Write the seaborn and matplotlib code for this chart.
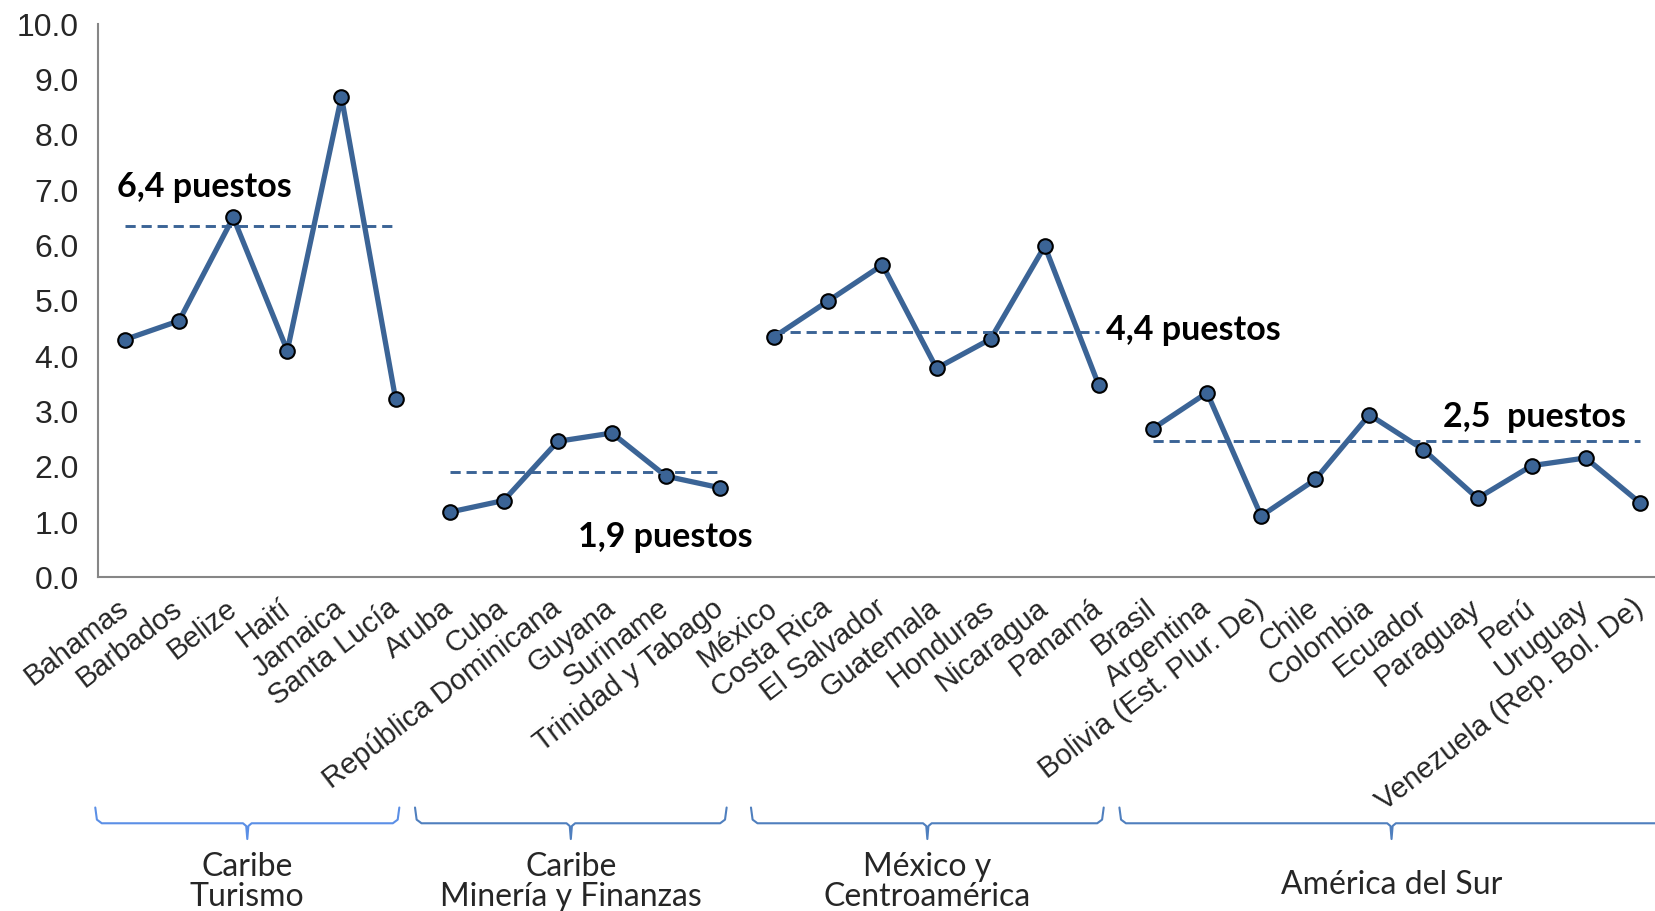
import numpy as np
import pandas as pd
import seaborn as sns
import matplotlib.pyplot as plt
import matplotlib.transforms as mtransforms

# datos
paises = ['Bahamas', 'Barbados', 'Belize', 'Haití', 'Jamaica', 'Santa Lucía',
          'Aruba', 'Cuba', 'República Dominicana', 'Guyana', 'Suriname', 'Trinidad y Tabago',
          'México', 'Costa Rica', 'El Salvador', 'Guatemala', 'Honduras', 'Nicaragua', 'Panamá',
          'Brasil', 'Argentina', 'Bolivia (Est. Plur. De)', 'Chile', 'Colombia', 'Ecuador',
          'Paraguay', 'Perú', 'Uruguay', 'Venezuela (Rep. Bol. De)']
valores = [4.3, 4.64, 6.51, 4.1, 8.69, 3.23,
           1.18, 1.39, 2.46, 2.61, 1.83, 1.62,
           4.35, 5.0, 5.65, 3.78, 4.31, 5.99, 3.47,
           2.69, 3.34, 1.11, 1.77, 2.94, 2.31, 1.43, 2.02, 2.16, 1.35]
grupos = ['Caribe\nTurismo', 'Caribe\nMinería y Finanzas',
          'México y\nCentroamérica', 'América del Sur']
n_por_grupo = [6, 6, 7, 10]
promedios = [6.35, 1.91, 4.43, 2.46]
promedio_txt = ['6,4 puestos', '1,9 puestos', '4,4 puestos', '2,5  puestos']

azul = '#3B6496'
gris = '#868686'

df = pd.DataFrame({'pais': paises, 'valor': valores,
                   'grupo': np.repeat(grupos, n_por_grupo)})
df['pos'] = np.arange(len(df))

sns.set_style('white')
plt.rcParams['font.family'] = ['Liberation Sans', 'DejaVu Sans']

fig = plt.figure(figsize=(16.55, 9.11), dpi=100)
ax = fig.add_axes([0.0592, 0.3662, 0.948, 0.6071])

sns.lineplot(data=df, x='pos', y='valor', hue='grupo', palette=[azul] * 4,
             sort=False, legend=False, marker='o', markersize=10.5,
             markeredgecolor='black', markeredgewidth=1.5, linewidth=3.8, ax=ax)

# lineas de promedio por grupo
inicio = np.cumsum([0] + n_por_grupo[:-1])
fin = inicio + np.array(n_por_grupo) - 1
for i0, i1, p in zip(inicio, fin, promedios):
    ax.plot([i0, i1], [p, p], color=azul, lw=2.1, ls=(0, (3.5, 2)))

# etiquetas de promedio
txt_pos = [(-0.15, 7.06), (8.38, 0.73), (18.13, 4.48), (24.37, 2.9)]
for (tx, ty), t in zip(txt_pos, promedio_txt):
    ax.text(tx, ty, t, fontsize=24.5, fontweight='bold', family='Lato',
            ha='left', va='center', color='black')

ax.set_xlim(-0.5, 28.5)
ax.set_ylim(0, 10)
ax.set_yticks(np.arange(0, 11, 1))
ax.set_yticklabels([f'{v:.1f}' for v in np.arange(0, 11, 1)], fontsize=23)
ax.set_xticks(range(len(paises)))
ax.set_xticklabels(paises, fontsize=21, rotation=37.5, ha='right', va='center',
                   rotation_mode='anchor')
ax.set_xticks(np.arange(-0.5, len(paises), 1), minor=True)
ax.tick_params(axis='x', which='major', length=0, pad=20)
ax.tick_params(axis='x', which='minor', length=7, width=1.2, color=gris, direction='out')
ax.tick_params(axis='y', length=7, width=1.2, color=gris, direction='out', pad=7)
ax.set_xlabel('')
ax.set_ylabel('')
for s in ['top', 'right']:
    ax.spines[s].set_visible(False)
for s in ['left', 'bottom']:
    ax.spines[s].set_color(gris)
    ax.spines[s].set_linewidth(1.5)

# llaves de grupos debajo de las etiquetas
tr = mtransforms.blended_transform_factory(ax.transData, fig.transFigure)
llaves = [(-0.55, 5.07), (5.36, 11.12), (11.57, 18.09), (18.38, 28.44)]
colores_llave = ['#5B8FE6', '#4F7FBE', '#4F7FBE', '#4F7FBE']
y_top, y_mid, y_tip = 0.1136, 0.0963, 0.079
for (a, b), c, g in zip(llaves, colores_llave, grupos):
    m = (a + b) / 2
    xs = [a, a + 0.03, a + 0.12, m - 0.08, m - 0.02, m, m + 0.02, m + 0.08, b - 0.12, b - 0.03, b]
    ys = [y_top, y_mid + 0.004, y_mid, y_mid, y_mid - 0.003, y_tip, y_mid - 0.003, y_mid,
          y_mid, y_mid + 0.004, y_top]
    ax.plot(xs, ys, color=c, lw=1.5, transform=tr, clip_on=False)
    if '\n' in g:
        ax.text(m, 0.065, g, transform=tr, ha='center', va='top', fontsize=23,
                family='Lato', linespacing=1.0)
    else:
        ax.text(m, 0.029, g, transform=tr, ha='center', va='center', fontsize=23,
                family='Lato')

fig.savefig('out.png', dpi=100)
